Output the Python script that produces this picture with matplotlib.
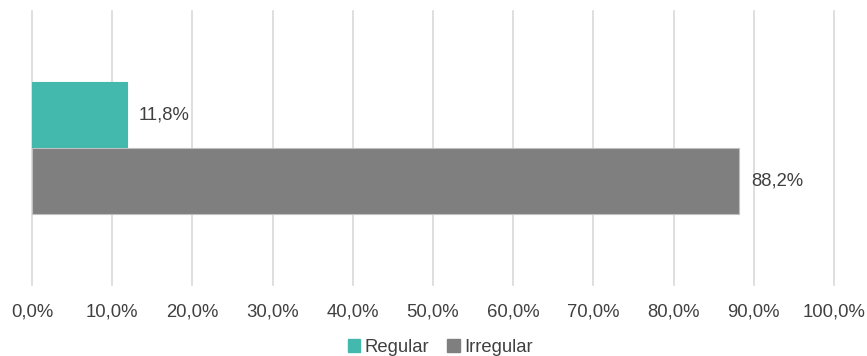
import matplotlib
matplotlib.use("Agg")
import matplotlib.pyplot as plt
from matplotlib.patches import Patch

series = ["Regular", "Irregular"]
values = [11.8, 88.2]
colors = ["#43B8AD", "#7F7F7F"]
xticks = [0, 10, 20, 30, 40, 50, 60, 70, 80, 90, 100]
xtick_labels = ["0,0%", "10,0%", "20,0%", "30,0%", "40,0%", "50,0%",
                "60,0%", "70,0%", "80,0%", "90,0%", "100,0%"]
value_labels = ["11,8%", "88,2%"]

plt.rcParams['font.family'] = ['Liberation Sans', 'DejaVu Sans']
txt = "#404040"
fs = 13.3

fig = plt.figure(figsize=(8.67, 3.56), dpi=100)
ax = fig.add_axes([32/867, 1-285/356, (834-32)/867, (285-11)/356])

h = 0.241
ypos = [h/2, -h/2]
for y, v, c, lab in zip(ypos, values, colors, value_labels):
    ec = "#BFBFBF" if c == "#7F7F7F" else c
    ax.barh(y, v, height=h, color=c, edgecolor=ec, linewidth=0.8, zorder=3)
    ax.text(v + 1.5, y, lab, va='center', ha='left', fontsize=fs, color=txt)

ax.set_xlim(0, 100)
ax.set_ylim(-0.5, 0.5)
ax.set_xticks(xticks)
ax.set_xticklabels(xtick_labels, fontsize=fs, color=txt)
ax.set_yticks([])
ax.tick_params(axis='x', length=0, pad=13)
ax.grid(axis='x', color='#D9D9D9', linewidth=1.2, zorder=0)
for gl in ax.get_xgridlines():
    gl.set_clip_on(False)
for s in ax.spines.values():
    s.set_visible(False)

handles = [Patch(facecolor=c, edgecolor=c) for c in colors]
fig.legend(handles, series, loc='center', bbox_to_anchor=(440/867, 1-347/356),
           ncol=2, frameon=False, fontsize=fs, handlelength=0.7, handleheight=0.7,
           handletextpad=0.2, columnspacing=1.0, labelcolor=txt)

fig.savefig("out.png", dpi=100)
